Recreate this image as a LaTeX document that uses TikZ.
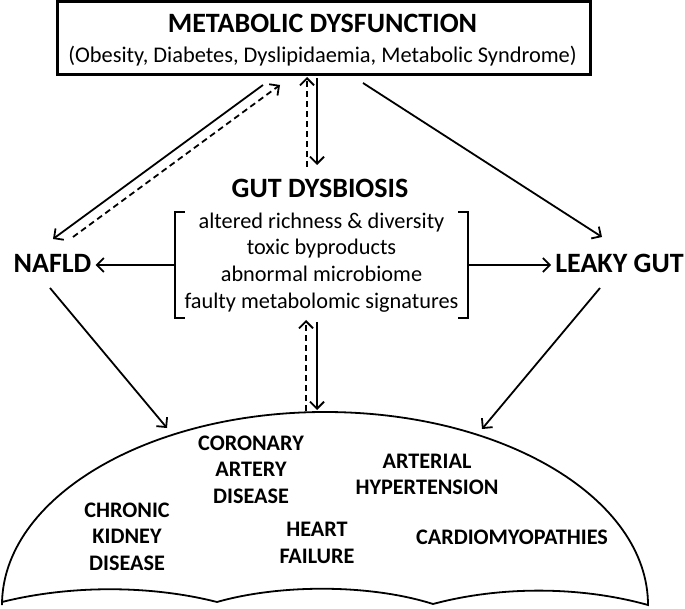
\documentclass[tikz,border=0pt]{standalone}
\usepackage{fontspec}
\setmainfont{Carlito}
\usetikzlibrary{arrows.meta, positioning}

\begin{document}
\begin{tikzpicture}[x=1pt, y=-1pt,
  head/.style={font=\bfseries\fontsize{28}{30}\selectfont, inner sep=4pt},
  subtxt/.style={font=\fontsize{22.4}{26}\selectfont},
  items/.style={align=center, font=\fontsize{22.3}{26.7}\selectfont},
  dis/.style={align=center, font=\bfseries\fontsize{22.2}{26.5}\selectfont},
  arrow/.style={-{Straight Barb[length=7pt,width=14pt]}, line width=1.8pt},
  feed/.style={arrow, dash pattern=on 6pt off 4pt},
  outline/.style={line width=1.8pt}
]
\useasboundingbox (0,0) rectangle (685,609);

% top box
\node[draw, line width=3pt, minimum width=533, minimum height=73, inner sep=0] (meta) at (323.5,38.5) {};
\node[head, anchor=base] (metaname) at (322.5,33) {METABOLIC DYSFUNCTION};
\node[subtxt, anchor=base] (metalist) at (322.5,63) {(Obesity, Diabetes, Dyslipidaemia, Metabolic Syndrome)};

% gut dysbiosis and its bracket
\node[head, anchor=base] (gut) at (320,198) {GUT DYSBIOSIS};
\node[items] (gutlist) at (321.5,262.5) {altered richness \& diversity\\toxic byproducts\\abnormal microbiome\\faulty metabolomic signatures};
\node[minimum width=293, minimum height=106, inner sep=0] (brk) at (321.5,265) {};
\draw[outline] ([xshift=10]brk.north west) -- (brk.north west) -- (brk.south west) -- ([xshift=10]brk.south west);
\draw[outline] ([xshift=-10]brk.north east) -- (brk.north east) -- (brk.south east) -- ([xshift=-10]brk.south east);

\node[head, anchor=base] (nafld) at (52.5,273) {NAFLD};
\node[head, anchor=base] (leaky) at (619.5,273) {LEAKY GUT};

% umbrella of outcomes
\draw[outline] (2,605) arc[start angle=180, end angle=360, x radius=323, y radius=193]
  .. controls (580,586) and (500,586) .. (433,604)
  .. controls (370,584) and (280,584) .. (217,602)
  .. controls (150,585) and (70,585) .. (2,602) -- cycle;

\node[dis] (ckd) at (127,536.5) {CHRONIC\\KIDNEY\\DISEASE};
\node[dis] (cad) at (251,469.5) {CORONARY\\ARTERY\\DISEASE};
\node[dis] (hf) at (317,543) {HEART\\FAILURE};
\node[dis] (htn) at (427,474.5) {ARTERIAL\\HYPERTENSION};
\node[dis] (cmp) at (512,537) {CARDIOMYOPATHIES};

% arrow ends
\coordinate (m1) at (263,85);  \coordinate (n1) at (53,239);
\coordinate (n2) at (73,237);  \coordinate (m2) at (280,85);
\coordinate (g1) at (307,167); \coordinate (m3) at (307,77);
\coordinate (m4) at (317,78);  \coordinate (g2) at (317,165);
\coordinate (m5) at (363,83);  \coordinate (l1) at (602,237);
\coordinate (n3) at (50,288);  \coordinate (d1) at (167,428);
\coordinate (l2) at (600,288); \coordinate (d2) at (482,429);
\coordinate (d3) at (306,411); \coordinate (g3) at (306,320);
\coordinate (g4) at (317,322); \coordinate (d4) at (317,410);

\draw[arrow] (m1) -- (n1);
\draw[feed] (n2) -- (m2);
\draw[feed] (g1) -- (m3);
\draw[arrow] (m4) -- (g2);
\draw[arrow] (m5) -- (l1);
\draw[arrow] (brk.west) -- (brk.west -| nafld.east);
\draw[arrow] (brk.east) -- (brk.east -| leaky.west);
\draw[arrow] (n3) -- (d1);
\draw[arrow] (l2) -- (d2);
\draw[feed] (d3) -- (g3);
\draw[arrow] (g4) -- (d4);

\end{tikzpicture}
\end{document}
